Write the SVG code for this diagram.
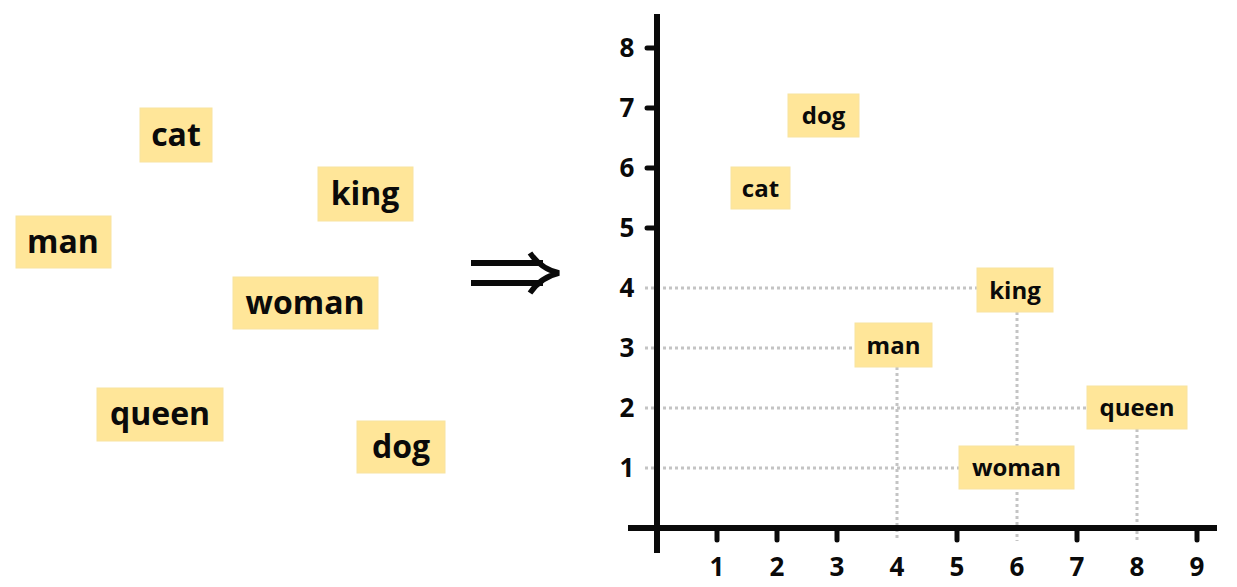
<svg xmlns="http://www.w3.org/2000/svg" width="1237" height="587" viewBox="0 0 1237 587">
<style>
.box{fill:#FFE699;stroke:#F8E3A0;stroke-width:1}
.lt{font-family:"Open Sans","Noto Sans",sans-serif;font-weight:bold;font-size:32px;fill:#0a0a0a;text-anchor:middle}
.rt{font-family:"Open Sans","Noto Sans",sans-serif;font-weight:bold;font-size:24px;fill:#0a0a0a;text-anchor:middle}
.num{font-family:"Open Sans","Noto Sans",sans-serif;font-weight:bold;font-size:26px;fill:#0a0a0a;text-anchor:middle}
.dot{stroke:#C4C4C4;stroke-width:3;stroke-dasharray:3 3;fill:none}
.axis{stroke:#0a0a0a;stroke-width:6;fill:none}
.tick{stroke:#0a0a0a;stroke-width:5;stroke-linecap:round;fill:none}
</style>
<g id="left-words">
<g id="l-cat"><rect class="box" x="140" y="108" width="72" height="54"/><text class="lt" x="176" y="146">cat</text></g>
<g id="l-king"><rect class="box" x="318" y="167" width="95" height="54"/><text class="lt" x="365" y="205">king</text></g>
<g id="l-man"><rect class="box" x="16" y="216" width="95" height="52"/><text class="lt" x="63" y="253">man</text></g>
<g id="l-woman"><rect class="box" x="233" y="277" width="145" height="52"/><text class="lt" x="305" y="314">woman</text></g>
<g id="l-queen"><rect class="box" x="97" y="388" width="126" height="53"/><text class="lt" x="160" y="425">queen</text></g>
<g id="l-dog"><rect class="box" x="357" y="421" width="88" height="52"/><text class="lt" x="401" y="458">dog</text></g>
</g>
<g id="implies">
<line x1="471" y1="263" x2="543" y2="263" stroke="#0a0a0a" stroke-width="6"/>
<line x1="471" y1="283" x2="543" y2="283" stroke="#0a0a0a" stroke-width="6"/>
<path d="M530 253 Q541 269 559 273 Q541 277 530 293" stroke="#0a0a0a" stroke-width="5.5" fill="none"/>
</g>
<g id="connectors">
<line class="dot" x1="645" y1="288" x2="977" y2="288"/>
<line class="dot" x1="645" y1="348" x2="855" y2="348"/>
<line class="dot" x1="645" y1="408" x2="1087" y2="408"/>
<line class="dot" x1="645" y1="468" x2="959" y2="468"/>
<line class="dot" x1="897" y1="367" x2="897" y2="541"/>
<line class="dot" x1="1017" y1="312" x2="1017" y2="541"/>
<line class="dot" x1="1137" y1="429" x2="1137" y2="541"/>
</g>
<g id="axes">
<line class="axis" x1="657" y1="14" x2="657" y2="553"/>
<line class="axis" x1="628" y1="528" x2="1217" y2="528"/>
<g id="yticks">
<line class="tick" x1="647" y1="48" x2="656" y2="48"/>
<line class="tick" x1="647" y1="108" x2="656" y2="108"/>
<line class="tick" x1="647" y1="168" x2="656" y2="168"/>
<line class="tick" x1="647" y1="228" x2="656" y2="228"/>
</g>
<g id="xticks">
<line class="tick" x1="717" y1="530" x2="717" y2="540"/>
<line class="tick" x1="777" y1="530" x2="777" y2="540"/>
<line class="tick" x1="837" y1="530" x2="837" y2="540"/>
<line class="tick" x1="957" y1="530" x2="957" y2="540"/>
<line class="tick" x1="1077" y1="530" x2="1077" y2="540"/>
<line class="tick" x1="1197" y1="530" x2="1197" y2="540"/>
</g>
<g id="ylabels">
<text class="num" x="627" y="57">8</text>
<text class="num" x="627" y="117">7</text>
<text class="num" x="627" y="177">6</text>
<text class="num" x="627" y="237">5</text>
<text class="num" x="627" y="297">4</text>
<text class="num" x="627" y="357">3</text>
<text class="num" x="627" y="417">2</text>
<text class="num" x="627" y="477">1</text>
</g>
<g id="xlabels">
<text class="num" x="717" y="576">1</text>
<text class="num" x="777" y="576">2</text>
<text class="num" x="837" y="576">3</text>
<text class="num" x="897" y="576">4</text>
<text class="num" x="957" y="576">5</text>
<text class="num" x="1017" y="576">6</text>
<text class="num" x="1077" y="576">7</text>
<text class="num" x="1137" y="576">8</text>
<text class="num" x="1197" y="576">9</text>
</g>
</g>
<g id="right-words">
<g id="r-dog"><rect class="box" x="788" y="94" width="71" height="43"/><text class="rt" x="823.5" y="124">dog</text></g>
<g id="r-cat"><rect class="box" x="731" y="167" width="59" height="42"/><text class="rt" x="760.5" y="196.5">cat</text></g>
<g id="r-king"><rect class="box" x="977" y="268" width="76" height="44"/><text class="rt" x="1015" y="298.5">king</text></g>
<g id="r-man"><rect class="box" x="855" y="323" width="77" height="44"/><text class="rt" x="893.5" y="353.5">man</text></g>
<g id="r-queen"><rect class="box" x="1087" y="386" width="100" height="43"/><text class="rt" x="1137" y="416">queen</text></g>
<g id="r-woman"><rect class="box" x="959" y="446" width="115" height="43"/><text class="rt" x="1016.5" y="476">woman</text></g>
</g>
</svg>
